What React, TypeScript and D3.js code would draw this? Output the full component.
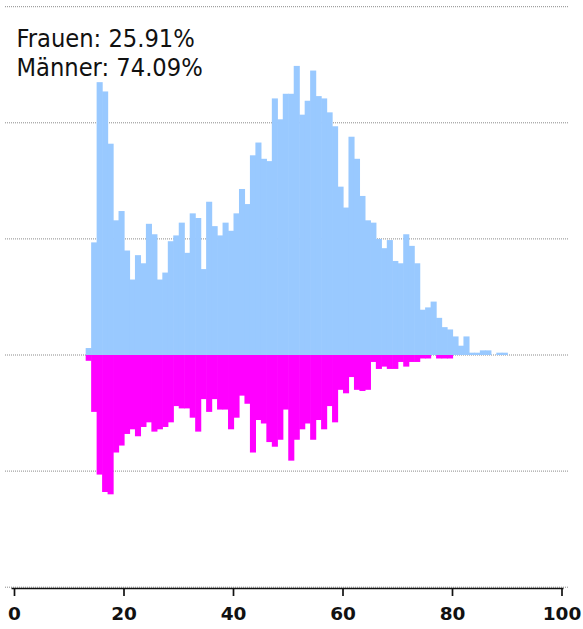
import { useEffect, useRef } from "react";
import * as d3 from "d3";

// chart size and plot edges
const width = 583;
const height = 629;
const left = 14.5;
const right = 562;
const top = 6.7;
const bottom = 587.2;

// age groups (first bar), values per year
const firstAge = 13;
const maleCounts = [
  6, 97, 235, 227, 182, 116, 124, 90, 65, 86, 79, 113, 104, 65, 71, 98, 103, 114, 88, 122,
  118, 74, 132, 111, 103, 114, 107, 122, 143, 130, 172, 183, 169, 167, 221, 203, 225, 225, 249, 207,
  219, 245, 223, 221, 209, 197, 145, 127, 188, 169, 137, 116, 114, 100, 92, 99, 81, 79, 104, 94,
  79, 39, 41, 46, 32, 24, 22, 16, 8, 16, 2, 2, 4, 4, 0, 2, 2,
];
const femaleCounts = [
  5, 49, 103, 118, 120, 84, 78, 68, 64, 70, 62, 58, 66, 64, 62, 58, 44, 46, 46, 54,
  66, 38, 49, 38, 47, 47, 64, 54, 35, 42, 84, 56, 59, 75, 79, 73, 47, 91, 73, 64,
  59, 73, 56, 64, 44, 58, 30, 33, 19, 30, 31, 30, 6, 12, 10, 12, 12, 6, 10, 6,
  6, 3, 3, 0, 3, 3, 3,
];
const gridValues = [-200, -100, 0, 100, 200, 300];
const xTicks = [0, 20, 40, 60, 80, 100];
const shareLabels = ["Frauen: 25.91%", "Männer: 74.09%"];

const App = () => {
  const ref = useRef<SVGSVGElement>(null);

  useEffect(() => {
    const svg = d3.select(ref.current);
    svg.selectAll("*").remove();

    const x = d3.scaleLinear().domain([0, 100]).range([left, right]);
    const y = d3.scaleLinear().domain([-200, 300]).range([bottom, top]);

    // dotted grid, behind the bars
    svg.append("g")
      .selectAll("line")
      .data(gridValues)
      .join("line")
      .attr("x1", 5)
      .attr("x2", 568)
      .attr("y1", (d) => y(d))
      .attr("y2", (d) => y(d))
      .attr("stroke", "#8a8a8a")
      .attr("stroke-width", 1)
      .attr("stroke-dasharray", "1,1");

    // men above zero (a bit of overlap so neighbours merge)
    svg.append("g")
      .selectAll("rect")
      .data(maleCounts)
      .join("rect")
      .attr("x", (d, i) => x(firstAge + i))
      .attr("width", (d, i) => x(firstAge + i + 1) - x(firstAge + i) + 0.6)
      .attr("y", (d) => y(d))
      .attr("height", (d) => y(0) - y(d))
      .attr("fill", "#99c9ff");

    // women below zero
    svg.append("g")
      .selectAll("rect")
      .data(femaleCounts)
      .join("rect")
      .attr("x", (d, i) => x(firstAge + i))
      .attr("width", (d, i) => x(firstAge + i + 1) - x(firstAge + i) + 0.6)
      .attr("y", y(0))
      .attr("height", (d) => y(-d) - y(0))
      .attr("fill", "#ff00ff");

    // x axis
    const axisY = 588.5;
    svg.append("line")
      .attr("x1", x(0) - 3)
      .attr("x2", x(100) + 1.5)
      .attr("y1", axisY)
      .attr("y2", axisY)
      .attr("stroke", "#111")
      .attr("stroke-width", 1.7);

    const ticks = svg.append("g")
      .selectAll("g")
      .data(xTicks)
      .join("g")
      .attr("transform", (d) => `translate(${x(d)},0)`);
    ticks.append("line")
      .attr("y1", axisY)
      .attr("y2", 596)
      .attr("stroke", "#111")
      .attr("stroke-width", 1.7);
    ticks.append("text")
      .attr("y", 620)
      .attr("text-anchor", "middle")
      .attr("font-family", "'DejaVu Sans', sans-serif")
      .attr("font-weight", "bold")
      .attr("font-size", 18.5)
      .attr("fill", "#111")
      .text((d) => d);

    // share of women / men
    svg.append("g")
      .selectAll("text")
      .data(shareLabels)
      .join("text")
      .attr("x", 16.5)
      .attr("y", (d, i) => 46.7 + i * 29)
      .attr("font-family", "'DejaVu Sans Condensed', 'DejaVu Sans', sans-serif")
      .attr("font-stretch", "condensed")
      .attr("font-size", 25.2)
      .attr("fill", "#111")
      .text((d) => d);
  }, []);

  return (
    <svg
      ref={ref}
      width={width}
      height={height}
      viewBox={`0 0 ${width} ${height}`}
      style={{ position: "absolute", left: 0, top: 0, background: "#fff" }}
    />
  );
};

export default App;
